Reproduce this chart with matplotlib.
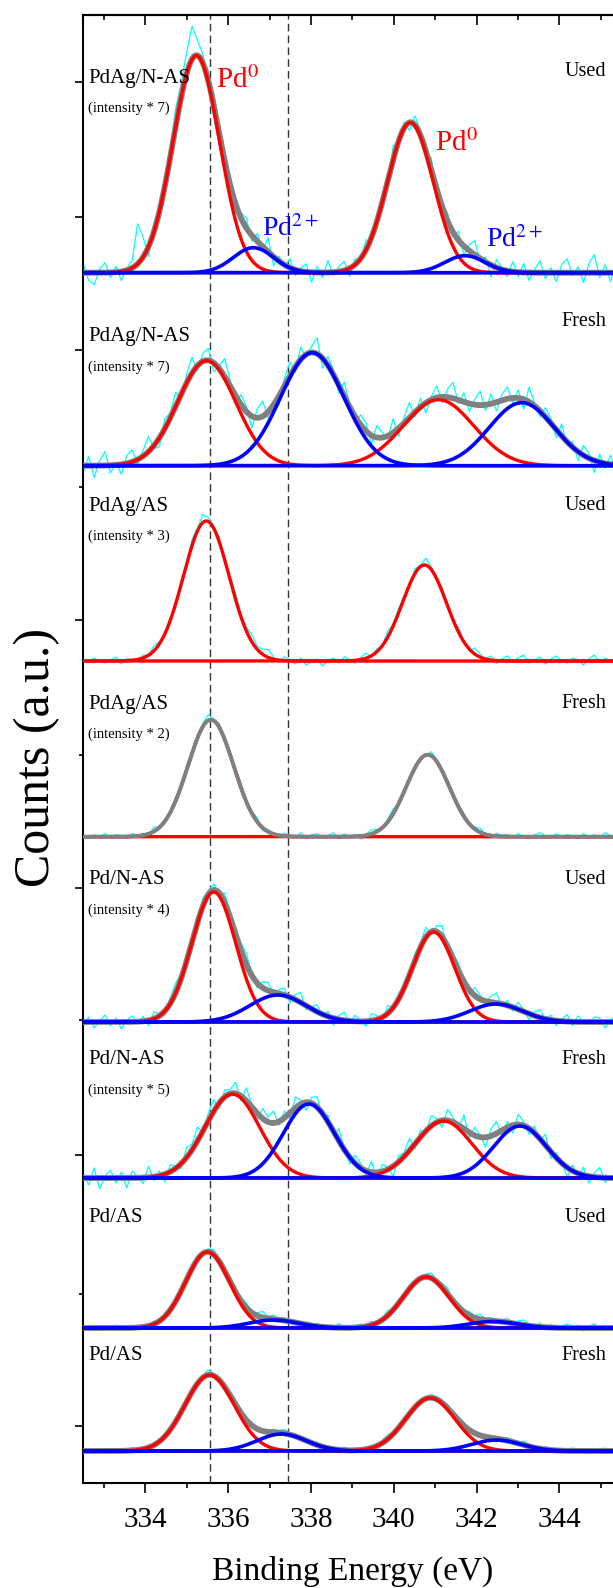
import numpy as np
import matplotlib
matplotlib.use("Agg")
import matplotlib.pyplot as plt
from matplotlib.ticker import MultipleLocator

plt.rcParams['font.family'] = ['Liberation Serif', 'DejaVu Serif']
plt.rcParams['mathtext.fontset'] = 'stix'

# ---------------- data ----------------
panel_names = ["PdAg/N-AS", "PdAg/N-AS", "PdAg/AS", "PdAg/AS",
               "Pd/N-AS", "Pd/N-AS", "Pd/AS", "Pd/AS"]
panel_states = ["Used", "Fresh", "Used", "Fresh", "Used", "Fresh", "Used", "Fresh"]
panel_factors = ["(intensity * 7)", "(intensity * 7)", "(intensity * 3)", "(intensity * 2)",
                 "(intensity * 4)", "(intensity * 5)", None, None]

# Pd0 components (3d5/2, 3d3/2): centre (eV), height (a.u.), FWHM (eV)
pd0_center = [[335.23, 340.40], [335.48, 341.08], [335.47, 340.74], [335.58, 340.82],
              [335.65, 340.96], [336.10, 341.20], [335.50, 340.78], [335.55, 340.88]]
pd0_height = [[217, 150], [105, 66], [140, 96], [117, 82],
              [130, 90], [84, 57], [76, 51], [76, 53]]
pd0_fwhm = [[1.32, 1.30], [1.65, 2.00], [1.30, 1.25], [1.30, 1.23],
            [1.25, 1.20], [1.55, 1.60], [1.25, 1.30], [1.40, 1.40]]

# Pd2+ components (None = not fitted)
pd2_center = [[336.61, 341.72], [338.03, 343.09], None, None,
              [337.20, 342.47], [337.95, 343.05], [337.10, 342.40], [337.29, 342.48]]
pd2_height = [[25, 17], [113, 63], None, None,
              [27, 18], [74, 52], [8, 6.5], [17, 11]]
pd2_fwhm = [[1.15, 1.15], [1.80, 1.85], None, None,
            [1.6, 1.5], [1.45, 1.50], [1.4, 1.4], [1.4, 1.4]]

# residual of the raw spectrum with respect to the fit envelope (a.u.)
raw_resid = [
    [9, -8, -12, 3, 10, -5, 6, -9, 2, 8, 40, 20, -10, 9, 3, -3, 8, 18, 14, 21,
     33, 15, 9, -5, 12, 6, -8, 3, -9, 5, 10, -6, 8, -3, 14, -9, 5, -2, 9, -6,
     3, 8, -10, 6, -5, 12, -3, 5, 9, -8, 6, -2, 10, -5, 3, 8, -9, 14, -3, 6,
     -8, 9, 5, -6, 12, -10, 3, 8, -5, 9, -9, 6, 14, -3, 5, -12, 8, 2, -6, 10,
     -5, 9, -8, 3, 12, -6, 5, -9, 8, 14, -3, 6, -10, 9, 18, -5, 8, -9, 12, 5],
    [-6, 9, -12, 5, 14, -8, 3, -10, 8, 12, -5, 6, 15, -3, -9, 10, 5, 14, -6, 9,
     16, -5, 8, 12, -9, 3, 18, 6, -8, 10, 5, -12, 9, 15, -6, 3, -9, 8, 14, -5,
     12, -3, 6, 16, -10, 9, 5, -8, 14, 3, -6, 10, 8, -9, 12, 5, -3, 14, -8, 6,
     15, -5, 9, -10, 3, 12, -6, 8, 16, -3, 9, -8, 5, 14, -6, 10, -9, 6, 12, -5,
     8, -10, 15, 3, -6, 9, 5, -8, 12, -3, 6, -9, 10, 5, -12, 8, -5, 9, -6, 3],
    [2, -1, 3, 0, -2, 1, 4, -3, 2, 1, -2, 3, 0, 5, 2, -1, 3, -2, 4, 1,
     6, 3, 8, 4, 2, 5, -1, 3, 6, 2, 4, 7, 3, 5, 8, 2, -2, 4, 1, -3,
     3, -4, -1, 2, -5, 0, 3, -2, 4, 1, -3, 2, 5, -1, 3, 0, 6, 2, 4, 3,
     -2, 5, 1, 7, 3, -1, 4, 2, -3, 5, 1, -2, 6, 3, 0, 4, -3, 2, 5, -1,
     3, 6, -2, 1, 4, -3, 2, 5, 0, -2, 3, 1, -4, 2, 6, -1, 3, 0, 4, 2],
    [1, -2, 2, 0, 3, -1, 2, 1, -2, 3, 0, 2, -1, 4, 1, -3, 2, 3, 0, 5,
     2, -1, 3, 6, 1, 4, -2, 3, 1, 5, -1, 2, 4, -3, 2, 0, -2, 3, 1, -1,
     4, -2, 2, 3, -1, 1, 4, -2, 3, 0, 2, -3, 1, 4, 2, -1, 3, 5, 0, 2,
     -2, 3, 1, -1, 4, 2, 0, 3, -2, 1, 3, -1, 2, 4, 0, -2, 3, 1, 2, -1,
     3, 0, -2, 2, 4, 1, -1, 3, 0, 2, 1, -2, 3, 0, 2, -1, 4, 1, -1, 2],
    [-2, 5, -6, 1, 7, -4, 4, -7, 2, 6, -1, 5, -5, 7, 2, -4, 6, 10, 4, 7,
     2, -5, 8, 4, 6, -2, 10, 5, -4, 7, 11, 2, -5, 6, 8, -2, 4, 7, -6, 5,
     10, -4, 2, 7, -1, 5, -7, 4, 8, -2, 6, 1, -5, 7, 4, -4, 8, -1, 5, 2,
     -6, 7, 4, 10, -2, 6, 11, -4, 5, 7, 2, -5, 8, 4, -1, 6, 10, -2, 5, -4,
     7, 2, -6, 4, 8, -1, 5, -5, 2, 7, -4, 6, 1, -2, 5, 4, -6, 2, 7, -1],
    [4, -7, 10, -11, 2, 8, -5, 6, -10, 7, 1, -6, 11, -4, 5, -8, 7, 2, -5, 10,
     6, 14, -2, 8, 12, -6, 7, 4, 11, -5, 13, 2, -7, 10, 5, 12, -4, 7, -6, 11,
     4, -8, 6, 10, -2, 7, -5, 12, 2, -7, 8, 5, -4, 11, -6, 7, 2, -10, 6, 4,
     12, -5, 7, -2, 10, 4, -7, 11, 5, -4, 14, -6, 8, 2, -10, 7, 12, -5, 6, -8,
     10, 4, -6, 7, -2, 11, -7, 5, 2, -10, 6, -4, 8, -7, 4, 10, -5, 2, -6, 7],
    [1, -1, 2, 0, -2, 1, 3, -1, 2, 0, -1, 2, 1, 3, 0, 4, 2, -1, 3, 1,
     2, 4, 1, 3, 5, 2, 0, 4, 2, 3, 5, 1, 3, 6, 2, 4, 1, 3, -1, 2,
     0, -2, 1, 3, -1, 2, 0, 4, 1, -2, 2, 3, 0, 4, -1, 2, 5, 1, 3, 2,
     4, 1, -1, 3, 5, 2, 4, 6, 1, 3, 0, 4, 2, 5, 1, 3, -1, 2, 4, 1,
     3, 5, 2, 0, 4, -2, 3, 1, 2, 4, 0, 3, -3, 2, 4, 1, 2, -1, 3, 1],
    [2, -1, 1, 0, -2, 1, 2, -1, 1, 3, 0, -1, 2, 1, -2, 3, 1, 0, 2, 4,
     1, 3, 2, 5, 2, 0, 3, 1, 2, 4, 1, 3, -1, 2, 0, 3, 2, 4, 1, -1,
     2, 0, 1, 3, -1, 2, 0, 1, 3, 0, 2, -1, 1, 2, 0, 3, 4, 2, 1, 3,
     0, 2, -1, 1, 3, 2, 0, 4, 1, 2, 3, -1, 2, 1, 0, 2, -3, 1, 3, 2,
     0, 4, 2, 1, -1, 3, 2, 0, -2, 1, 3, 1, 0, 2, -1, 2, 3, 0, 1, -1],
]

x_ticks = [334, 336, 338, 340, 342, 344]
ref_lines = [335.57, 337.45]

# ---------------- layout (pixel geometry of the figure) ----------------
W, H = 613, 1588
AX_L, AX_T, AX_B = 83.3, 14.7, 1483.3
PX_PER_EV = 41.4
XMIN, XMAX = 332.5, 345.5

panel_base = [272.7, 465.7, 661.0, 836.7, 1022.0, 1178.0, 1328.0, 1451.0]
label_row = [78, 337, 506, 704, 880, 1060, 1218, 1355]
state_row = [72, 322, 506, 704, 880, 1060, 1218, 1355]
ytick_major = [82.0, 216.7, 350.0, 620.0, 888.0, 1155.0, 1426.0]
ytick_minor = [486.7, 755.0, 1020.0, 1294.0]

RED, BLUE, GREY, CYAN = "#FF0000", "#0000FF", "#808080", "#00FFFF"


def fx(px):
    return px / W


def fy(row):
    return 1 - row / H


def gauss(x, c, h, w):
    return h * np.exp(-4 * np.log(2) * (x - c) ** 2 / w ** 2)


fig = plt.figure(figsize=(W / 100, H / 100), dpi=100)
ax = fig.add_axes([AX_L / W, 1 - AX_B / H, (XMAX - XMIN) * PX_PER_EV / W, (AX_B - AX_T) / H])
ax.set_xlim(XMIN, XMAX)
ax.set_ylim(AX_B, AX_T)

xf = np.linspace(XMIN, XMAX, 800)

for i in range(8):
    base = panel_base[i]
    reds = [gauss(xf, c, h, w) for c, h, w in zip(pd0_center[i], pd0_height[i], pd0_fwhm[i])]
    blues = []
    if pd2_center[i] is not None:
        blues = [gauss(xf, c, h, w) for c, h, w in zip(pd2_center[i], pd2_height[i], pd2_fwhm[i])]
    env = np.sum(reds + blues, axis=0)

    res = np.array(raw_resid[i], dtype=float)
    xr = np.linspace(XMIN, XMAX, len(res))
    env_r = np.interp(xr, xf, env)
    ax.plot(xr, base - env_r - res, color=CYAN, lw=0.9, zorder=2)

    grey_on_top = (i == 3)
    if i != 2 and not grey_on_top:
        ax.plot(xf, base - env, color=GREY, lw=4.2, zorder=3)
    for r in reds:
        ax.plot(xf, base - r, color=RED, lw=2.4, zorder=4)
    for b in blues:
        ax.plot(xf, base - b, color=BLUE, lw=2.6, zorder=5)
    if grey_on_top:
        ax.plot(xf, base - env, color=GREY, lw=2.8, zorder=6)

    fig.text(fx(88), fy(label_row[i]), panel_names[i], fontsize=15, va='center', ha='left')
    if panel_factors[i]:
        fig.text(fx(88), fy(label_row[i] + 30), panel_factors[i], fontsize=10.5,
                 va='center', ha='left')
    fig.text(fx(606), fy(state_row[i]), panel_states[i], fontsize=14.5, va='center', ha='right')

for xv in ref_lines:
    ax.axvline(xv, color="#333333", lw=1.0, dashes=(5.5, 3), zorder=1.5)

# annotations in the top panel
fig.text(fx(216), fy(80), r"Pd$^{0}$", color=RED, fontsize=21, va='center', ha='left')
fig.text(fx(262), fy(229), r"Pd$^{2+}$", color=BLUE, fontsize=20, va='center', ha='left')
fig.text(fx(435), fy(143), r"Pd$^{0}$", color=RED, fontsize=21, va='center', ha='left')
fig.text(fx(486), fy(240), r"Pd$^{2+}$", color=BLUE, fontsize=20, va='center', ha='left')

# axes styling
for s in ['left', 'bottom', 'top']:
    ax.spines[s].set_linewidth(1.5)
ax.spines['right'].set_visible(False)

ax.set_xticks(x_ticks)
ax.xaxis.set_minor_locator(MultipleLocator(1))
ax.tick_params(axis='x', which='major', direction='out', length=7.2, width=1.2,
               labelsize=21, pad=10, top=False)
ax.tick_params(axis='x', which='minor', direction='out', length=3.6, width=1.2, top=False)

ax.set_yticks(ytick_major)
ax.set_yticks(ytick_minor, minor=True)
ax.set_yticklabels([])
ax.tick_params(axis='y', which='major', direction='out', length=6, width=1.2, right=False)
ax.tick_params(axis='y', which='minor', direction='out', length=3, width=1.2, right=False)

sec = ax.secondary_xaxis('top')
sec.set_xticks(x_ticks)
sec.xaxis.set_minor_locator(MultipleLocator(1))
sec.tick_params(which='major', direction='in', length=7.2, width=1.2, labeltop=False)
sec.tick_params(which='minor', direction='in', length=3.6, width=1.2)
sec.set_xticklabels([])
sec.spines['top'].set_linewidth(1.5)

fig.text(fx(353), fy(1571), "Binding Energy (eV)", fontsize=24, ha='center', va='center')
fig.text(fx(37), fy(757), "Counts (a.u.)", fontsize=36, ha='center', va='center',
         rotation=90)

fig.savefig("out.png", dpi=100)
